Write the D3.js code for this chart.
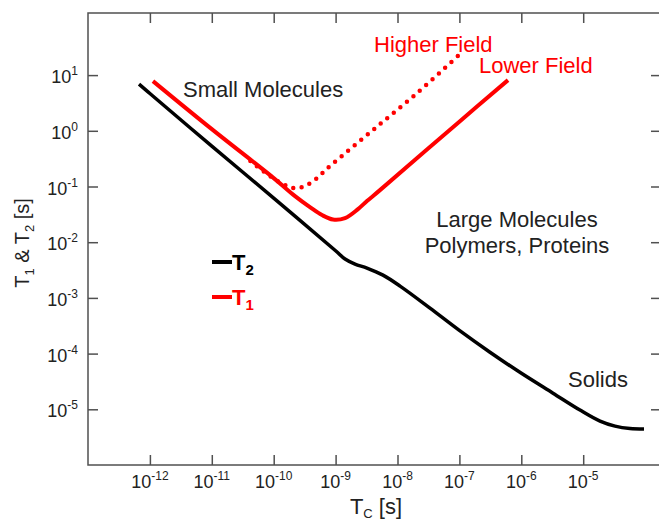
<!DOCTYPE html>
<html><head><meta charset="utf-8">
<script src="https://cdn.jsdelivr.net/npm/d3@7/dist/d3.min.js"></script>
<style>
html,body{margin:0;padding:0;background:#fff;}
text{font-family:"Liberation Sans",Arial,Helvetica,sans-serif;}
</style></head>
<body>
<svg id="chart" width="659" height="522"></svg>
<script>
// ---- data (log-log: correlation time Tc [s] vs relaxation time [s]) ----
const t2Tc = [6.67e-13, 1e-12, 1e-11, 1e-10, 1e-9, 1.42e-9, 2.06e-9, 3.21e-9, 5.83e-9, 1.1e-8, 3.35e-8, 9.86e-8, 3.12e-7, 9.9e-7, 3.25e-6, 8.87e-6, 1.87e-5, 3.27e-5, 5.7e-5, 9.6e-5];
const t2Val = [6.9, 4.68, 0.53, 0.062, 0.00703, 0.00498, 0.00404, 0.00343, 0.00256, 0.00163, 6.56e-4, 2.64e-4, 1.06e-4, 4.47e-5, 1.95e-5, 9.7e-6, 6.14e-6, 4.99e-6, 4.5e-6, 4.41e-6];

const t1LowTc = [1.12e-12, 1e-11, 1e-10, 2.21e-10, 3.85e-10, 6.03e-10, 9.08e-10, 1.42e-9, 2.3e-9, 3.21e-9, 5.21e-9, 1.02e-7, 6.1e-7];
const t1LowVal = [7.8, 1.07, 0.1416, 0.0673, 0.0427, 0.0307, 0.0255, 0.0271, 0.0393, 0.0547, 0.0861, 1.49, 8.13];

const t1HighTc = [4.2e-11, 8.7e-11, 1.64e-10, 2.4e-10, 3.9e-10, 9.1e-10, 4e-9, 2.07e-8, 1.02e-7];
const t1HighVal = [0.286, 0.154, 0.102, 0.093, 0.115, 0.26, 1.03, 4.75, 23.8];

const xTickExp = [-12, -11, -10, -9, -8, -7, -6, -5];
const yTickExp = [1, 0, -1, -2, -3, -4, -5];

const annoText = ["Small Molecules", "Higher Field", "Lower Field", "Large Molecules", "Polymers, Proteins", "Solids"];
const annoColor = ["#222", "#ff0000", "#ff0000", "#222", "#222", "#222"];

// ---- layout ----
const svg = d3.select("#chart");
const L = 88, T = 13, R = 661, B = 465;
const x = d3.scaleLog().domain([1e-13, 1e-4]).range([L, 645.1]);
const y = d3.scaleLog().domain([1e-6, 1e2]).range([B, 19.4]);
const axisColor = "#505050";

// frame
svg.append("rect").attr("x", L).attr("y", T).attr("width", R - L).attr("height", B - T)
  .attr("fill", "none").attr("stroke", axisColor).attr("stroke-width", 1.5);

const xTicks = xTickExp.map(e => Math.pow(10, e));
const yTicks = yTickExp.map(e => Math.pow(10, e));

function styleAxis(g) {
  g.select(".domain").remove();
  g.selectAll(".tick line").attr("stroke", axisColor).attr("stroke-width", 1.5);
  g.selectAll(".tick text").remove();
}
svg.append("g").attr("transform", `translate(0,${B})`)
  .call(d3.axisBottom(x).tickValues(xTicks).tickSize(-10)).call(styleAxis);
svg.append("g").attr("transform", `translate(0,${T})`)
  .call(d3.axisTop(x).tickValues(xTicks).tickSize(-10)).call(styleAxis);
svg.append("g").attr("transform", `translate(${L},0)`)
  .call(d3.axisLeft(y).tickValues(yTicks).tickSize(-10)).call(styleAxis);
svg.append("g").attr("transform", `translate(${R},0)`)
  .call(d3.axisRight(y).tickValues(yTicks).tickSize(-10)).call(styleAxis);

// tick labels with superscripts
xTickExp.forEach(e => {
  const t = svg.append("text").attr("x", x(Math.pow(10, e))).attr("y", 488)
    .attr("text-anchor", "middle").attr("fill", "#222").style("font-size", "18px");
  t.append("tspan").text("10");
  t.append("tspan").attr("dy", -8).style("font-size", "12px").text(String(e));
});
yTickExp.forEach(e => {
  const t = svg.append("text").attr("x", 78).attr("y", y(Math.pow(10, e)) + 8)
    .attr("text-anchor", "end").attr("fill", "#222").style("font-size", "18px");
  t.append("tspan").text("10");
  t.append("tspan").attr("dy", -8).style("font-size", "12px").text(String(e));
});

// axis titles
const xt = svg.append("text").attr("x", 376).attr("y", 514).attr("text-anchor", "middle")
  .attr("fill", "#222").style("font-size", "22px");
xt.append("tspan").text("T");
xt.append("tspan").attr("dy", 4).style("font-size", "13px").text("C");
xt.append("tspan").attr("dy", -4).text(" [s]");

const yt = svg.append("text").attr("transform", "translate(29,243) rotate(-90)")
  .attr("text-anchor", "middle").attr("fill", "#222").style("font-size", "20px");
yt.append("tspan").text("T");
yt.append("tspan").attr("dy", 5).style("font-size", "13px").text("1");
yt.append("tspan").attr("dy", -5).text(" & T");
yt.append("tspan").attr("dy", 5).style("font-size", "13px").text("2");
yt.append("tspan").attr("dy", -5).text(" [s]");

// curves
const line = d3.line().x(d => x(d[0])).y(d => y(d[1])).curve(d3.curveCatmullRom.alpha(0.5));
const zip = (a, b) => a.map((v, i) => [v, b[i]]);

svg.append("path").datum(zip(t1HighTc, t1HighVal)).attr("d", line)
  .attr("fill", "none").attr("stroke", "#ff0000").attr("stroke-width", 4.5)
  .attr("stroke-linecap", "round").attr("stroke-dasharray", "0 8.5");
svg.append("path").datum(zip(t1LowTc, t1LowVal)).attr("d", line)
  .attr("fill", "none").attr("stroke", "#ff0000").attr("stroke-width", 4);
svg.append("path").datum(zip(t2Tc, t2Val)).attr("d", line)
  .attr("fill", "none").attr("stroke", "#000").attr("stroke-width", 3.5);

// annotations (text placement)
const annoPos = [[183, 97, "start"], [374, 52, "start"], [479, 73, "start"], [517, 227, "middle"], [517, 253, "middle"], [568, 387, "start"]];
annoText.forEach((txt, i) => {
  svg.append("text").attr("x", annoPos[i][0]).attr("y", annoPos[i][1]).attr("text-anchor", annoPos[i][2])
    .attr("fill", annoColor[i]).style("font-size", "22px").text(txt);
});

// legend
const legend = [{name: "T", sub: "2", color: "#000", yy: 262}, {name: "T", sub: "1", color: "#ff0000", yy: 297}];
legend.forEach(l => {
  svg.append("line").attr("x1", 212).attr("x2", 232).attr("y1", l.yy).attr("y2", l.yy)
    .attr("stroke", l.color).attr("stroke-width", 4);
  const t = svg.append("text").attr("x", 232).attr("y", l.yy + 8).attr("fill", l.color)
    .style("font-size", "22px").style("font-weight", "bold");
  t.append("tspan").text(l.name);
  t.append("tspan").attr("dy", 5).style("font-size", "15px").text(l.sub);
});
</script>
</body></html>
